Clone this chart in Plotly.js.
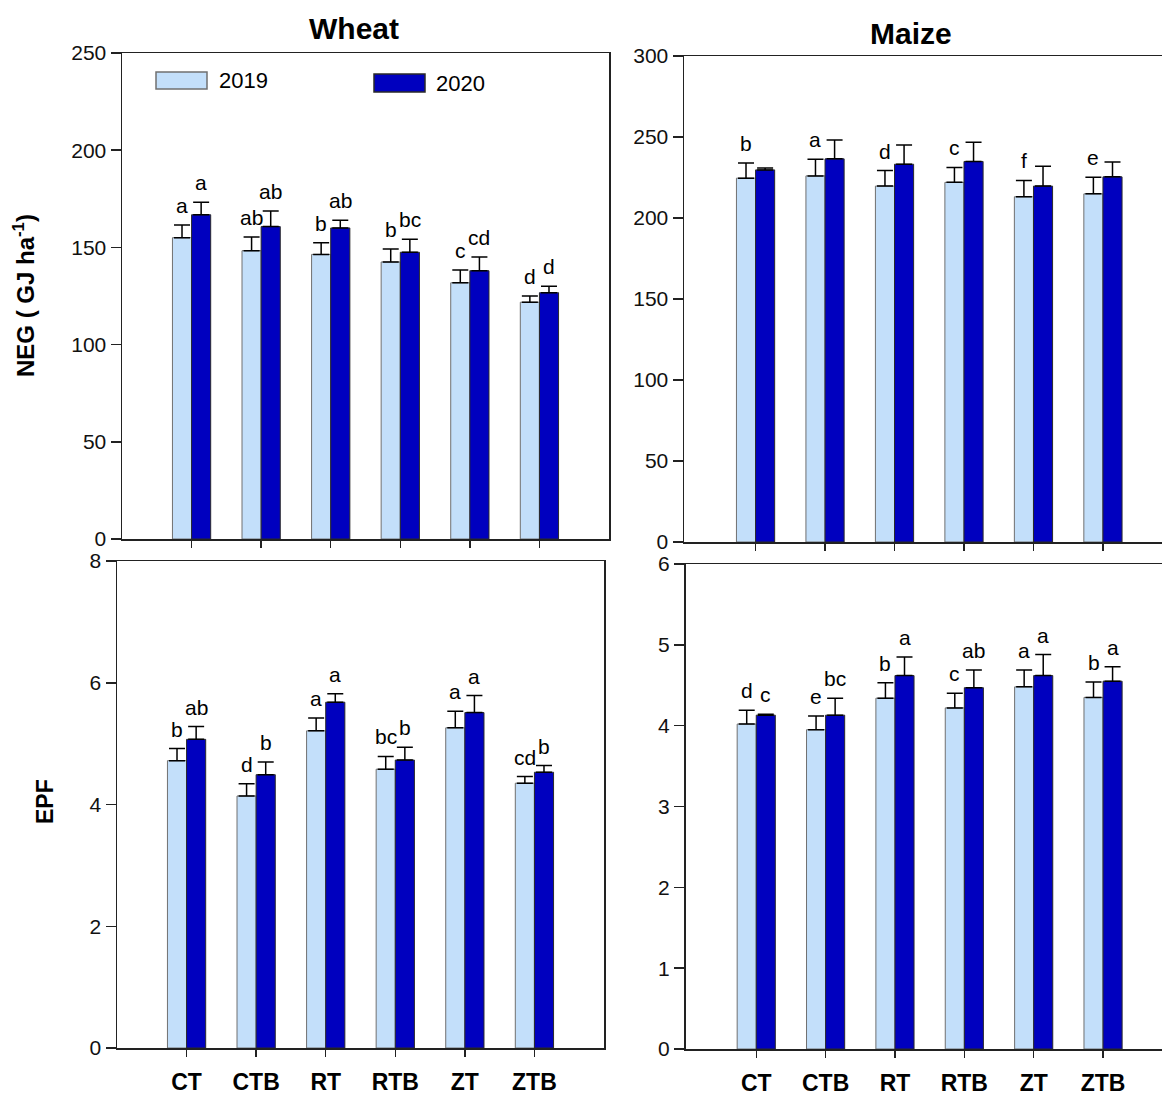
<!DOCTYPE html>
<html><head><meta charset="utf-8">
<script src="https://cdn.plot.ly/plotly-3.0.1.min.js"></script>
<style>html,body{margin:0;padding:0;overflow:hidden;background:#fff}#chart{width:1162px;height:1098px}</style>
</head><body><div id="chart"></div>
<script>
// ---------- DATA ----------
const treatments = ['CT','CTB','RT','RTB','ZT','ZTB'];
const years = ['2019','2020'];

const wheatNEG2019 = [155.0,148.3,146.4,142.5,131.8,121.8];
const wheatNEG2020 = [166.8,160.7,160.0,147.5,138.0,126.7];
const wheatNEGErr2019 = [6.5,7.0,6.0,6.7,6.6,3.2];
const wheatNEGErr2020 = [6.4,8.0,4.0,6.7,7.0,3.3];
const wheatNEGLetters2019 = ['a','ab','b','b','c','d'];
const wheatNEGLetters2020 = ['a','ab','ab','bc','cd','d'];

const wheatEPF2019 = [4.72,4.14,5.21,4.58,5.26,4.35];
const wheatEPF2020 = [5.07,4.49,5.68,4.73,5.51,4.53];
const wheatEPFErr2019 = [0.20,0.20,0.21,0.21,0.27,0.11];
const wheatEPFErr2020 = [0.21,0.21,0.14,0.21,0.28,0.11];
const wheatEPFLetters2019 = ['b','d','a','bc','a','cd'];
const wheatEPFLetters2020 = ['ab','b','a','b','a','b'];

const maizeNEG2019 = [224.6,226.0,219.7,222.0,213.1,214.9];
const maizeNEG2020 = [229.7,236.5,233.2,234.9,219.7,225.4];
const maizeNEGErr2019 = [9.4,10.3,9.6,9.2,10.1,10.3];
const maizeNEGErr2020 = [1.2,11.7,11.8,11.9,12.3,9.1];
const maizeNEGLetters2019 = ['b','a','d','c','f','e'];
const maizeNEGLetters2020 = ['','','','','',''];

const maizeEPF2019 = [4.02,3.95,4.34,4.22,4.48,4.35];
const maizeEPF2020 = [4.13,4.13,4.62,4.47,4.62,4.55];
const maizeEPFErr2019 = [0.17,0.17,0.19,0.18,0.21,0.19];
const maizeEPFErr2020 = [0.01,0.21,0.23,0.22,0.26,0.18];
const maizeEPFLetters2019 = ['d','e','b','c','a','b'];
const maizeEPFLetters2020 = ['c','bc','a','ab','a','a'];

// ---------- STYLE ----------
const W = 1162, H = 1098;
const FONT = 'Liberation Sans, Arial, sans-serif';
const C19 = '#C3DFFA', C20 = '#0000BF';
const L19 = '#707070', L20 = '#2a2a2a';
const AX = '#222';
const BARGAP = 0.45;
const px = v => v / W;
const py = v => 1 - v / H;

const panels = [
  {xa:'x', ya:'y', s19:wheatNEG2019, s20:wheatNEG2020, e19:wheatNEGErr2019, e20:wheatNEGErr2020, l19:wheatNEGLetters2019, l20:wheatNEGLetters2020},
  {xa:'x2', ya:'y2', s19:wheatEPF2019, s20:wheatEPF2020, e19:wheatEPFErr2019, e20:wheatEPFErr2020, l19:wheatEPFLetters2019, l20:wheatEPFLetters2020},
  {xa:'x3', ya:'y3', s19:maizeNEG2019, s20:maizeNEG2020, e19:maizeNEGErr2019, e20:maizeNEGErr2020, l19:maizeNEGLetters2019, l20:maizeNEGLetters2020},
  {xa:'x4', ya:'y4', s19:maizeEPF2019, s20:maizeEPF2020, e19:maizeEPFErr2019, e20:maizeEPFErr2020, l19:maizeEPFLetters2019, l20:maizeEPFLetters2020}
];

const traces = [];
const annotations = [];
const half = (1 - BARGAP) / 4;
panels.forEach(p => {
  [[p.s19, p.e19, p.l19, C19, L19, years[0], -half], [p.s20, p.e20, p.l20, C20, L20, years[1], half]].forEach(([vals, errs, lets, col, lc, name, off]) => {
    traces.push({
      type:'bar', x:treatments, y:vals, name:name, xaxis:p.xa, yaxis:p.ya, showlegend:false,
      marker:{color:col, line:{color:lc, width:1}},
      error_y:{type:'data', symmetric:false, array:errs, arrayminus:errs.map(()=>0), color:'#000', thickness:1.5, width:8},
      hoverinfo:'skip'
    });
    vals.forEach((v, i) => {
      if (!lets[i]) return;
      annotations.push({xref:p.xa, yref:p.ya, x:i + off, y:v + errs[i], text:lets[i], showarrow:false,
        yanchor:'bottom', xanchor:'center', yshift:6, font:{family:FONT, size:21, color:'#000'}});
    });
  });
});

function xax(domain, range, showLabels) {
  return {domain, range, type:'category', categoryorder:'array', categoryarray:treatments,
    showline:true, linecolor:AX, linewidth:1.5, mirror:true, ticks:'outside', ticklen:7, tickwidth:1.5, tickcolor:AX,
    showgrid:false, zeroline:false, showticklabels:showLabels, ticklabelstandoff:6,
    tickfont:{family:FONT, size:23, color:'#000', weight:'bold'}, fixedrange:true};
}
function yax(domain, range, dtick, mirror) {
  return {domain, range, dtick, tick0:0, showline:true, linecolor:AX, linewidth:1.5, mirror:mirror,
    ticks:'outside', ticklen:10, tickwidth:1.5, tickcolor:AX, showgrid:false, zeroline:false,
    tickfont:{family:FONT, size:21, color:'#111'}, fixedrange:true};
}

// titles
annotations.push({xref:'paper', yref:'paper', x:px(354), y:py(29), text:'Wheat', showarrow:false, xanchor:'center', yanchor:'middle', font:{family:FONT, size:30, color:'#000', weight:'bold'}});
annotations.push({xref:'paper', yref:'paper', x:px(911), y:py(33), text:'Maize', showarrow:false, xanchor:'center', yanchor:'middle', font:{family:FONT, size:30, color:'#000', weight:'bold'}});
annotations.push({xref:'paper', yref:'paper', x:px(24), y:py(296), text:'NEG ( GJ ha<sup>-1</sup>)', textangle:-90, showarrow:false, xanchor:'center', yanchor:'middle', font:{family:FONT, size:24, color:'#000', weight:'bold'}});
annotations.push({xref:'paper', yref:'paper', x:px(45), y:py(802), text:'EPF', textangle:-90, showarrow:false, xanchor:'center', yanchor:'middle', font:{family:FONT, size:23, color:'#000', weight:'bold'}});
// legend labels
annotations.push({xref:'paper', yref:'paper', x:px(217), y:py(81), text:years[0], showarrow:false, xanchor:'left', yanchor:'middle', font:{family:FONT, size:22, color:'#000'}});
annotations.push({xref:'paper', yref:'paper', x:px(434), y:py(84), text:years[1], showarrow:false, xanchor:'left', yanchor:'middle', font:{family:FONT, size:22, color:'#000'}});

const shapes = [
  {type:'rect', xref:'paper', yref:'paper', x0:px(156), x1:px(207), y0:py(89), y1:py(72), fillcolor:C19, line:{color:L19, width:1.5}},
  {type:'rect', xref:'paper', yref:'paper', x0:px(374), x1:px(425), y0:py(92), y1:py(74), fillcolor:C20, line:{color:L20, width:1.5}}
];

const layout = {
  width:W, height:H, margin:{l:0, r:0, t:0, b:0}, paper_bgcolor:'#fff', plot_bgcolor:'#fff',
  barmode:'group', bargap:BARGAP, bargroupgap:0, showlegend:false,
  xaxis: xax([px(122), px(609)], [-1, 6], false),
  yaxis: yax([py(539), py(53)], [0, 250], 50, true),
  xaxis2: xax([px(117), px(604)], [-1, 6], true),
  yaxis2: yax([py(1048), py(561)], [0, 8], 2, true),
  xaxis3: xax([px(684), px(1162)], [-1.03, 5.85], false),
  yaxis3: yax([py(542), py(56)], [0, 300], 50, false),
  xaxis4: xax([px(685.5), px(1162)], [-1.02, 5.85], true),
  yaxis4: yax([py(1049), py(564)], [0, 6], 1, false),
  annotations, shapes
};
layout.yaxis2.anchor = 'x2'; layout.xaxis2.anchor = 'y2';
layout.yaxis3.anchor = 'x3'; layout.xaxis3.anchor = 'y3';
layout.yaxis4.anchor = 'x4'; layout.xaxis4.anchor = 'y4';
layout.xaxis.anchor = 'y'; layout.yaxis.anchor = 'x';

Plotly.newPlot('chart', traces, layout, {staticPlot:true, displayModeBar:false});
</script></body></html>
